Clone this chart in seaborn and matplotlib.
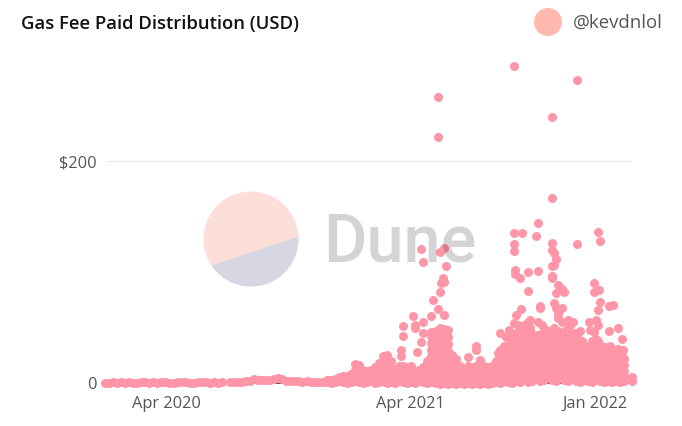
"""Gas fee distribution scatter, one dot per transaction."""

import matplotlib.pyplot as plt
import pandas as pd
import seaborn as sns
from matplotlib.patches import Circle, Polygon

START_DATE = "2020-04-01"
PINK = "#ff96a8"

# day numbers count from START_DATE, fees are in USD
days_2020_h1 = [-92, -86, -80, -74, -68, -62, -56, -50, -44, -38, -32, -26, -20, -14, -8, -2,
                4, 10, 16, 22, 28, 34, 40, 46, 52, 58, 64, 70, 76, 82]
fees_2020_h1 = [0.4, 0.3, 0.6, 0.2, 0.5, 0.3, 0.7, 0.4, 0.2, 0.6, 0.8, 0.3, 0.5, 0.2, 0.6, 0.9,
                0.4, 0.3, 0.7, 0.5, 0.8, 0.4, 0.3, 0.6, 0.9, 0.5, 0.4, 0.7, 0.3, 0.6]

days_2020_h2 = [95, 101, 107, 113, 119, 125, 131, 137, 143, 149, 155, 161, 167, 173, 179, 185,
                191, 197, 203, 209, 215, 221, 227, 233]
fees_2020_h2 = [0.8, 1.0, 0.9, 1.3, 1.5, 2.2, 3.2, 3.0, 2.4, 2.8, 2.6, 3.4, 4.8, 3.6, 2.2, 1.8,
                1.6, 1.4, 1.2, 1.5, 1.1, 1.0, 0.9, 1.3]

stack_days_a = [240, 246, 252, 258, 264, 270, 276, 282, 288, 294, 300, 306, 312, 318, 324, 330,
                336, 342, 348, 354, 360, 366, 372, 378, 384]
stack_fees_a = [[1, 3], [0, 2.5], [1, 4], [2, 5.5], [1, 4, 6], [0, 3, 6], [1, 5, 8],
                [2, 7, 12, 17], [1, 6, 11, 16], [0, 5, 9, 12], [1, 6, 11], [2, 7, 12],
                [0, 5, 10, 14], [1, 6, 11, 18], [2, 8, 14, 19, 24], [0, 6, 12, 18, 25],
                [1, 7, 13, 20], [0, 5, 9, 13], [2, 7, 11, 15], [1, 6, 10, 15], [0, 5, 10, 14],
                [1, 6, 11, 15], [0, 4, 8, 11], [2, 6, 9, 12], [1, 5, 10, 14]]

stack_days_b = [390, 396, 402, 408, 414, 420, 426, 432, 438, 444, 450, 456, 462, 468, 474, 480, 486]
stack_fees_b = [[0, 5, 10, 15, 20], [1, 6, 12, 18, 24, 30, 36, 42, 46],
                [0, 5, 11, 17, 23, 29, 35, 41, 47], [-1, 4, 10, 16, 22, 28, 34, 40, 46, 50],
                [0, 6, 12, 18, 24, 30, 36, 42, 49], [-1, 5, 11, 17, 23, 29, 35, 41, 48],
                [0, 5, 10, 15, 20, 25], [-1, 4, 9, 14, 18, 22], [0, 5, 10, 15],
                [-1, 4, 8, 13], [0, 5, 10, 15, 23], [-1, 3, 8, 14], [0, 5, 10, 15],
                [-1, 4, 9, 15, 21], [0, 5, 10, 15], [-1, 4, 9, 14], [0, 5, 10, 15]]

stack_days_c = [492, 498, 504, 510, 516, 522, 528, 534, 540, 546, 552, 558, 564, 570, 576, 582, 588]
stack_fees_c = [[1, 6, 12, 20], [0, 5, 11, 17, 24, 30], [2, 8, 14, 20, 27, 33],
                [1, 7, 13, 19, 26, 32], [0, 6, 12, 18, 25, 31, 38], [2, 8, 14, 20, 27, 34, 40, 45],
                [1, 7, 13, 19, 26, 32, 39, 48], [3, 9, 15, 21, 28, 33, 38],
                [1, 7, 13, 20, 27, 34, 40, 46], [2, 8, 14, 21, 28, 36, 44],
                [4, 10, 16, 22, 29, 34, 38], [2, 8, 14, 20, 27, 34, 40], [3, 9, 15, 22, 30, 38, 47],
                [5, 11, 17, 24, 31, 37, 42], [3, 9, 15, 22, 30, 37, 45],
                [2, 8, 14, 21, 28, 36, 44], [6, 12, 18, 24, 31, 38]]

stack_days_d = [594, 600, 606, 612, 618, 624, 630, 636, 642, 648, 654, 660, 666, 672, 678, 684, 696]
stack_fees_d = [[3, 9, 15, 22, 30, 37, 44], [2, 8, 14, 21, 28, 35, 46], [4, 10, 16, 23, 30, 40],
                [2, 8, 14, 20, 27, 34, 42], [1, 7, 13, 20, 27, 35, 47], [3, 9, 15, 20, 25],
                [2, 8, 14, 22, 30], [1, 7, 13, 20, 27, 33, 38], [3, 9, 15, 22, 30, 40],
                [2, 8, 14, 20, 27, 34], [1, 7, 12, 18, 24, 30], [2, 7, 13, 19, 24, 28],
                [1, 6, 12, 18, 24, 30], [2, 7, 12, 18, 23, 28], [1, 6, 11, 17, 23, 28],
                [2, 6, 11, 16, 22], [2, 5]]

# second layer of transactions, falling between the stacks above
stack_days_e = [399, 405, 411, 417, 453, 471, 483, 495, 501, 507, 513, 519, 525, 531, 537, 543, 549,
                555, 561, 567, 573, 579, 585, 591, 597, 603, 609, 615, 621, 627, 633, 639, 645,
                651, 657, 663, 669, 675, 681]
stack_fees_e = [[3, 9, 15, 21, 27, 33, 39], [2, 8, 14, 20, 26, 32, 38, 44],
                [3, 9, 15, 21, 27, 33, 39, 45], [2, 8, 14, 20, 26, 32, 38, 44],
                [2, 7, 12], [2, 7, 12], [2, 7, 12], [3, 9, 15, 21, 27], [3, 8, 16, 23, 29],
                [4, 10, 17, 23, 29], [4, 10, 16, 23, 29, 35, 42], [3, 9, 15, 22, 28, 34, 41],
                [4, 10, 17, 23, 30, 36, 43, 52], [5, 11, 17, 23, 30, 36, 43],
                [6, 12, 18, 24, 31, 37, 44], [4, 10, 17, 24, 31, 37, 42, 50],
                [5, 11, 18, 25, 31, 37, 41], [6, 12, 18, 25, 32, 37, 43, 55],
                [5, 11, 17, 24, 31, 37, 44, 52], [6, 12, 19, 26, 33, 40, 48],
                [7, 13, 19, 25, 33, 40, 46], [5, 11, 18, 25, 33, 40, 50],
                [6, 12, 19, 26, 34, 42, 47], [5, 11, 17, 25, 32, 40, 55],
                [6, 12, 18, 26, 34, 41, 48], [5, 11, 18, 25, 33, 40, 52],
                [6, 12, 19, 26, 33, 38, 45], [5, 11, 17, 24, 32, 40], [4, 10, 17, 24, 32, 38],
                [5, 11, 18, 26, 33], [4, 10, 16, 24, 34, 48], [5, 11, 18, 25, 35, 46],
                [4, 10, 17, 24, 32, 38, 52], [5, 11, 17, 22, 27, 32], [3, 9, 15, 21, 27, 32],
                [4, 10, 16, 22, 26, 33], [3, 9, 15, 21, 25], [4, 9, 15, 20, 26, 31],
                [3, 8, 13, 19, 24]]

# the dots that stand clear of the main mass
outlier_days = [405, 405, 381, 384, 408, 414, 417, 413, 410, 414, 409, 399, 406, 414, 396, 368,
                353, 353, 371, 383, 372, 383, 380, 350, 350, 374, 462, 462,
                498, 507, 512, 519, 522, 530, 540, 534, 543, 558, 540, 540, 521, 521, 528,
                519, 555, 519, 531, 519, 555, 552, 558, 576, 613, 576, 580, 583, 576, 579, 576, 576,
                585, 591, 583, 579, 594, 583, 586, 586, 591, 600, 607,
                645, 648, 639, 639, 647, 648, 645, 642, 632, 661, 667, 661, 675, 681, 683, 681]
outlier_fees = [258, 222, 121, 109, 118, 122, 105, 95, 90, 91, 82, 75, 67, 61, 60, 60,
                51, 42, 52, 55, 50, 45, 37, 30, 24, 28, 33, 30,
                45, 41, 48, 54, 61, 67, 55, 52, 57, 69, 83, 100, 102, 98, 95,
                125, 101, 135, 135, 119, 144, 132, 68, 126, 125, 120, 117, 112, 105, 106, 95, 96,
                88, 85, 81, 72, 82, 68, 62, 59, 68, 57, 55,
                136, 128, 90, 82, 84, 73, 66, 57, 55, 69, 70, 47, 50, 40, 30, 21]
top_days = [520, 613, 576, 576]
top_fees = [285.6, 273, 240, 167]

tick_dates = ["2020-04-01", "2021-04-01", "2022-01-01"]
tick_labels = ["Apr 2020", "Apr 2021", "Jan 2022"]

rows = list(zip(days_2020_h1, fees_2020_h1)) + list(zip(days_2020_h2, fees_2020_h2))
rows += list(zip(outlier_days, outlier_fees)) + list(zip(top_days, top_fees))
for stack_days, stack_fees in [(stack_days_a, stack_fees_a), (stack_days_b, stack_fees_b),
                               (stack_days_c, stack_fees_c), (stack_days_d, stack_fees_d),
                               (stack_days_e, stack_fees_e)]:
    for day, fees in zip(stack_days, stack_fees):
        rows += [(day, fee) for fee in fees]

df = pd.DataFrame(rows, columns=["day", "fee"])
df["date"] = pd.Timestamp(START_DATE) + pd.to_timedelta(df["day"], unit="D")

sns.set_theme(style="white")
plt.rcParams["font.family"] = ["Open Sans", "DejaVu Sans"]

W, H = 682, 426
fig = plt.figure(figsize=(W / 100, H / 100), dpi=100)
ax = fig.add_axes([106 / W, 1 - 383 / H, 526 / W, 323 / H])

sns.scatterplot(data=df, x="date", y="fee", ax=ax, color=PINK, s=42, linewidth=0,
                legend=False, clip_on=False, zorder=3)

ax.set_xlim(pd.Timestamp("2020-01-01"), pd.Timestamp("2022-02-26"))
ax.set_ylim(0, 291)
ax.set_xlabel("")
ax.set_ylabel("")
ax.set_xticks(pd.to_datetime(tick_dates))
ax.set_xticklabels(tick_labels)
ax.set_yticks([0, 200])
ax.set_yticklabels(["0", "$200"])
ax.tick_params(axis="both", length=0, labelsize=11.8, labelcolor="#555555")
ax.tick_params(axis="x", pad=9)
ax.tick_params(axis="y", pad=7)
ax.axhline(200, color="#eeeeee", lw=1, zorder=1)
sns.despine(ax=ax, left=True)
ax.spines["bottom"].set_color("#444444")
ax.spines["bottom"].set_linewidth(1.3)

# watermark and header live on a pixel-space overlay above the dots
overlay = fig.add_axes([0, 0, 1, 1], zorder=5)
overlay.set_xlim(0, W)
overlay.set_ylim(H, 0)
overlay.axis("off")
overlay.patch.set_alpha(0)

disc = Circle((251, 239), 47.5, fc="#fcdfd9", ec="none", zorder=1)
overlay.add_patch(disc)
lower = Polygon([(180, 276), (322, 229), (322, 300), (180, 300)], fc="#d7d7e4", ec="none", zorder=2)
overlay.add_patch(lower)
lower.set_clip_path(disc)
overlay.text(323, 262, "Dune", family="Roboto", weight="medium", fontsize=48,
             color="black", alpha=0.17, ha="left", va="baseline")

overlay.text(21, 24, "Gas Fee Paid Distribution (USD)", fontsize=13.3, weight="semibold",
             color="#111111", ha="left", va="center")
overlay.add_patch(Circle((548, 22), 14, fc="#ffb9ae", ec="none"))
overlay.text(573, 23, "@kevdnlol", fontsize=13.4, color="#555555", ha="left", va="center")

fig.savefig("out.png", dpi=100)
plt.close(fig)
